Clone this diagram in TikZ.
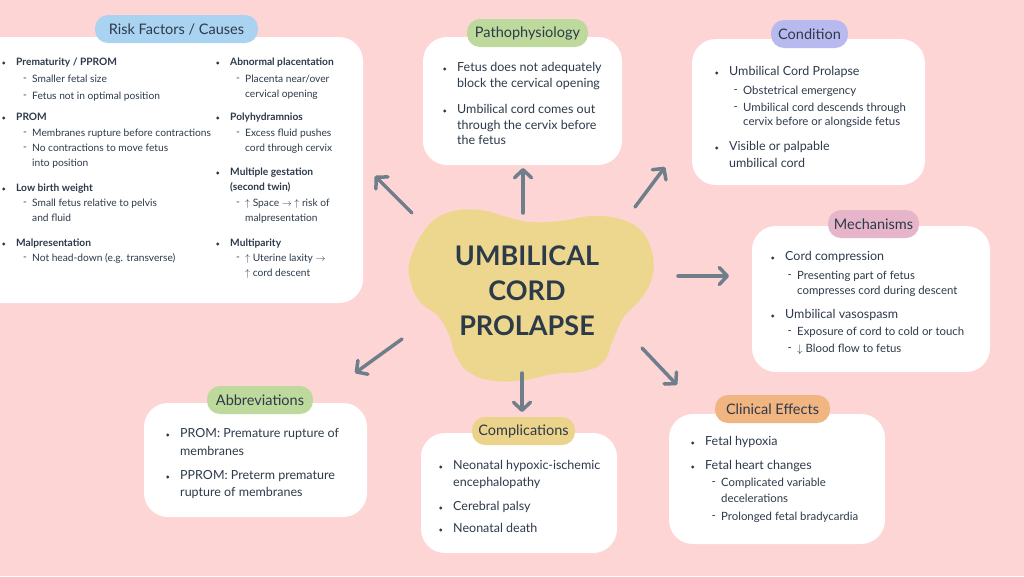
\documentclass[tikz,border=0pt]{standalone}
\usepackage{fontspec}
\setmainfont{Lato}
\usetikzlibrary{arrows.meta}
\definecolor{bgpink}{HTML}{FDD5D4}
\definecolor{ink}{HTML}{2D3A4A}
\definecolor{arrowgray}{HTML}{6F7E8B}
\definecolor{pillblue}{HTML}{A9D3F0}
\definecolor{pillgreen}{HTML}{BDDA9C}
\definecolor{pillpurple}{HTML}{B8B9EE}
\definecolor{pillpink}{HTML}{E6B5CA}
\definecolor{pillorange}{HTML}{F1B582}
\definecolor{pillyellow}{HTML}{ECD38B}
\definecolor{blobyellow}{HTML}{EDD78F}
\begin{document}
\begin{tikzpicture}[x=1pt,y=-1pt,
	card/.style={fill=white, rounded corners=24pt},
	pill/.style={rounded corners=13pt, inner sep=0, minimum height=28pt, text=ink, font=\fontsize{14.5}{16}\selectfont},
	link/.style={draw=arrowgray, line width=3.5pt, line cap=round, -{Straight Barb[length=8pt,width=17pt,round]}},
	txt/.style={anchor=base west, inner sep=0, text=ink, text height=7pt, text depth=2pt},
	mainfont/.style={font=\fontsize{12.5}{14}\selectfont},
	subfont/.style={font=\fontsize{11.4}{13}\selectfont},
	dotmark/.style={circle, fill=ink, inner sep=0, minimum size=3.2pt, label distance=10.4pt},
	dashmark/.style={text=ink, inner sep=0, subfont, label distance=5pt},
	lv-b/.style={txt, mainfont, label={[dotmark]west:{}}},
	lv-n/.style={txt, mainfont},
	lv-d/.style={txt, subfont, label={[dashmark]west:-}},
	lv-s/.style={txt, subfont}]
	\useasboundingbox (0,0) rectangle (1024,576);
	\fill[bgpink] (0,0) rectangle (1024,576);

	\fill[card] (-25,37) rectangle (363,303);
	\fill[card] (423,37) rectangle (622,165);
	\fill[card] (692,39) rectangle (925,185);
	\fill[card] (752,226) rectangle (990,372);
	\fill[card] (669,414) rectangle (885,544);
	\fill[card] (421,433) rectangle (617,553);
	\fill[card] (144,403) rectangle (367,517);

	\node[pill, fill=pillblue, minimum width=163pt] at (176.5,29) (rf) {Risk Factors / Causes};
	\node[pill, fill=pillgreen, minimum width=121pt] at (527.5,33) (pp) {Pathophysiology};
	\node[pill, fill=pillpurple, minimum width=77pt] at (809.5,34) (cd) {Condition};
	\node[pill, fill=pillpink, minimum width=91pt] at (873.5,224) (mc) {Mechanisms};
	\node[pill, fill=pillorange, minimum width=115pt] at (772.5,409) (ce) {Clinical Effects};
	\node[pill, fill=pillyellow, minimum width=103pt] at (523.5,431) (cp) {Complications};
	\node[pill, fill=pillgreen, minimum width=106pt] at (260,400) (ab) {Abbreviations};

	\begin{scope}[mainfont/.style={font=\bfseries\fontsize{10.2}{12}\selectfont},
		subfont/.style={font=\fontsize{10.2}{12}\selectfont}]
	\foreach \x/\y/\m/\t in {16/62/b/{Prematurity / PPROM}, 32/79/d/{Smaller fetal size},
		32/96/d/{Fetus not in optimal position}, 16/117/b/PROM,
		32/133/d/{Membranes rupture before contractions}, 32/148/d/{No contractions to move fetus},
		32/163/s/{into position}, 16/188/b/{Low birth weight},
		32/203/d/{Small fetus relative to pelvis}, 32/218/s/{and fluid},
		16/243/b/Malpresentation, 32/258/d/{Not head-down (e.g. transverse)}}{
		\node[lv-\m] at (\x,\y+3.5) (rfl-\y) {\t};
	}
	\foreach \x/\y/\m/\t in {230/62/b/{Abnormal placentation}, 245/79/d/{Placenta near/over},
		245/94/s/{cervical opening}, 230/117/b/Polyhydramnios,
		245/133/d/{Excess fluid pushes}, 245/148/s/{cord through cervix},
		230/172/b/{Multiple gestation}, 230/187/n/{(second twin)},
		245/203/d/{$\uparrow$ Space $\rightarrow$ $\uparrow$ risk of}, 245/218/s/malpresentation,
		230/243/b/Multiparity, 245/258/d/{$\uparrow$ Uterine laxity $\rightarrow$},
		245/273/s/{$\uparrow$ cord descent}}{
		\node[lv-\m] at (\x,\y+3.5) (rfr-\y) {\t};
	}
	\end{scope}

	\foreach \x/\y/\m/\t in {457/68/b/{Fetus does not adequately}, 457/84/n/{block the cervical opening},
		457/110/b/{Umbilical cord comes out}, 457/126/n/{through the cervix before},
		457/141/n/{the fetus}}{
		\node[lv-\m] at (\x,\y+3.5) (pp-\y) {\t};
	}
	\foreach \x/\y/\m/\t in {729/72/b/{Umbilical Cord Prolapse}, 743/91/d/{Obstetrical emergency},
		743/108/d/{Umbilical cord descends through}, 743/122/s/{cervix before or alongside fetus},
		729/147/b/{Visible or palpable}, 729/164/n/{umbilical cord}}{
		\node[lv-\m] at (\x,\y+3.5) (cd-\y) {\t};
	}
	\foreach \x/\y/\m/\t in {785/257/b/{Cord compression}, 797/276/d/{Presenting part of fetus},
		797/291/s/{compresses cord during descent}, 785/315/b/{Umbilical vasospasm},
		797/332/d/{Exposure of cord to cold or touch}, 797/349/d/{$\downarrow$ Blood flow to fetus}}{
		\node[lv-\m] at (\x,\y+3.5) (mc-\y) {\t};
	}
	\foreach \x/\y/\m/\t in {705/442/b/{Fetal hypoxia}, 705/466/b/{Fetal heart changes},
		721/483/d/{Complicated variable}, 721/499/s/decelerations,
		721/517/d/{Prolonged fetal bradycardia}}{
		\node[lv-\m] at (\x,\y+3.5) (ce-\y) {\t};
	}
	\foreach \x/\y/\m/\t in {453/466/b/{Neonatal hypoxic-ischemic}, 453/483/n/encephalopathy,
		453/507/b/{Cerebral palsy}, 453/529/b/{Neonatal death}}{
		\node[lv-\m] at (\x,\y+3.5) (cp-\y) {\t};
	}
	\foreach \x/\y/\m/\t in {180/434/b/{PROM: Premature rupture of}, 180/452/n/membranes,
		180/476/b/{PPROM: Preterm premature}, 180/493/n/{rupture of membranes}}{
		\node[lv-\m] at (\x,\y+3.5) (ab-\y) {\t};
	}

	\fill[blobyellow] plot[smooth cycle, tension=0.7] coordinates {(410,260) (427,227) (450,212)
		(480,210) (507,217) (530,222) (560,221) (593,216) (623,220) (643,233) (653,257) (651,281)
		(639,301) (623,318) (613,340) (604,361) (585,371) (553,374) (525,380) (495,381) (470,373)
		(456,356) (449,335) (438,316) (420,302) (411,283)};
	\node[text=ink, font=\bfseries\fontsize{27}{35}\selectfont, align=center, inner sep=0]
		at (527,291) (core) {UMBILICAL\\CORD\\PROLAPSE};

	\foreach \i/\sx/\sy/\ex/\ey in {1/412/213/375/176, 2/523/213/523/168, 3/635/207/665/167,
		4/678/276/729/276, 5/642/348/677/385, 6/522/373/522/412, 7/402/339/355/373}{
		\coordinate (s\i) at (\sx,\sy);
		\coordinate (e\i) at (\ex,\ey);
		\draw[link] (s\i) -- (e\i);
	}
\end{tikzpicture}
\end{document}
